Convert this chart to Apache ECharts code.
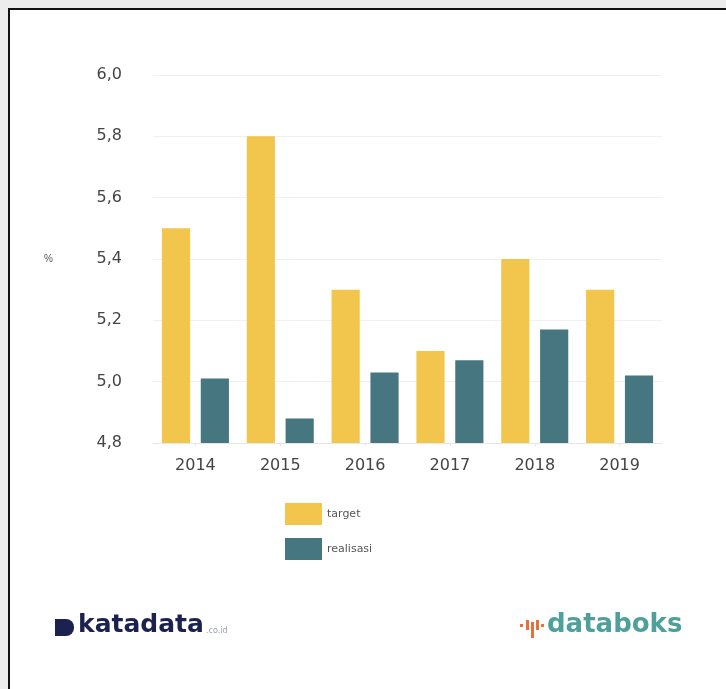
<!DOCTYPE html>
<html>
<head>
<meta charset="utf-8">
<script src="https://cdn.jsdelivr.net/npm/echarts@6/dist/echarts.min.js"></script>
<style>
html,body{margin:0;padding:0;width:726px;height:689px;overflow:hidden;background:#ececec;}
#frame{position:absolute;left:8px;top:8px;width:800px;height:800px;border:2px solid #111;background:#fff;}
#chart{position:absolute;left:0;top:0;width:726px;height:689px;}
</style>
</head>
<body>
<div id="frame"></div>
<div id="chart"></div>
<script>
var categories = ['2014','2015','2016','2017','2018','2019'];
var targetValues = [5.5, 5.8, 5.3, 5.1, 5.4, 5.3];
var realisasiValues = [5.01, 4.88, 5.03, 5.07, 5.17, 5.02];
var seriesNames = ['target','realisasi'];

var chart = echarts.init(document.getElementById('chart'), null, {renderer:'canvas'});
chart.setOption({
  backgroundColor: 'transparent',
  animation: false,
  grid: {left: 153, right: 64, top: 75, bottom: 246, containLabel: false},
  xAxis: {
    type: 'category',
    data: categories,
    axisLine: {lineStyle: {color: '#e6e6e6'}},
    axisTick: {show: true, alignWithLabel: true, length: 3, lineStyle: {color: '#e6e6e6'}},
    axisLabel: {color: '#444', fontSize: 16, fontFamily: 'DejaVu Sans', margin: 15}
  },
  yAxis: {
    type: 'value',
    min: 4.8, max: 6.0, interval: 0.2,
    name: '%',
    nameLocation: 'middle',
    nameGap: 100,
    nameRotate: 0,
    nameTextStyle: {color: '#555', fontSize: 10},
    axisLine: {show: false},
    axisTick: {show: false},
    axisLabel: {color: '#444', fontSize: 16, fontFamily: 'DejaVu Sans', margin: 31,
      formatter: function(v){ return v.toFixed(1).replace('.', ','); }},
    splitLine: {lineStyle: {color: '#f0f0f0'}}
  },
  legend: {
    orient: 'vertical',
    left: 280, top: 498,
    itemWidth: 37, itemHeight: 22, itemGap: 13,
    icon: 'rect',
    textStyle: {color: '#555', fontSize: 11, fontFamily: 'DejaVu Sans'},
    data: seriesNames
  },
  series: [
    {name: seriesNames[0], type: 'bar', data: targetValues, itemStyle: {color: '#f2c54c'}, barGap: '38%', barCategoryGap: '21%'},
    {name: seriesNames[1], type: 'bar', data: realisasiValues, itemStyle: {color: '#467680'}}
  ],
  graphic: [
    {type: 'rect', left: 55, top: 619, shape: {width: 19, height: 17, r: [0, 8, 8, 0]}, style: {fill: '#1c2250'}},
    {type: 'text', left: 78, top: 613, style: {text: 'katadata', fill: '#1c2250', font: 'bold 25px "DejaVu Sans"'}},
    {type: 'text', left: 206, top: 627, style: {text: '.co.id', fill: '#9aa0b8', font: '8px "DejaVu Sans"'}},
    {type: 'rect', left: 520, top: 624, shape: {width: 3, height: 3}, style: {fill: '#e8703a'}},
    {type: 'rect', left: 526, top: 620, shape: {width: 3, height: 10}, style: {fill: '#e8703a'}},
    {type: 'rect', left: 531, top: 622, shape: {width: 3, height: 16}, style: {fill: '#e8703a'}},
    {type: 'rect', left: 536, top: 620, shape: {width: 3, height: 10}, style: {fill: '#e8703a'}},
    {type: 'rect', left: 541, top: 624, shape: {width: 3, height: 3}, style: {fill: '#e8703a'}},
    {type: 'text', left: 547, top: 612, style: {text: 'databoks', fill: '#4fa09a', font: 'bold 26px "DejaVu Sans"'}}
  ]
});
</script>
</body>
</html>
